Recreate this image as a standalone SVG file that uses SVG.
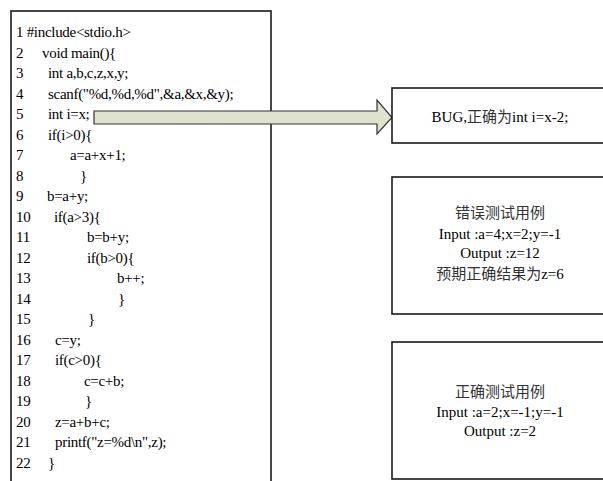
<svg xmlns="http://www.w3.org/2000/svg" width="603" height="481" viewBox="0 0 603 481">
<style>
.box{fill:#fff;stroke:#1a1a1a;stroke-width:1.6}
.code{font-family:"Liberation Serif","Noto Sans CJK SC",serif;font-size:15px;letter-spacing:-0.3px;fill:#000}
.t{font-family:"Liberation Serif","Noto Sans CJK SC",serif;font-size:15px;fill:#000;text-anchor:middle}
.cjk{font-family:"Noto Sans CJK SC",serif;font-size:15px;fill:#333}
.arrow{fill:#dfe2cc;stroke:#333;stroke-width:1.2}
</style>
<rect width="603" height="481" fill="#fff"/>
<g id="code">
<rect class="box" x="11" y="11" width="260" height="480"/>
<text class="code" x="16" y="37">1 #include&lt;stdio.h&gt;</text>
<text class="code" x="16" y="57.5">2</text><text class="code" x="42" y="57.5">void main(){</text>
<text class="code" x="16" y="78">3</text><text class="code" x="48" y="78">int a,b,c,z,x,y;</text>
<text class="code" x="16" y="98.5">4</text><text class="code" x="48" y="98.5">scanf("%d,%d,%d",&amp;a,&amp;x,&amp;y);</text>
<text class="code" x="16" y="119">5</text><text class="code" x="48" y="119">int i=x;</text>
<text class="code" x="16" y="139.5">6</text><text class="code" x="48" y="139.5">if(i&gt;0){</text>
<text class="code" x="16" y="160">7</text><text class="code" x="70" y="160">a=a+x+1;</text>
<text class="code" x="16" y="180.5">8</text><text class="code" x="80" y="180.5">}</text>
<text class="code" x="16" y="201">9</text><text class="code" x="47" y="201">b=a+y;</text>
<text class="code" x="16" y="221.5">10</text><text class="code" x="54" y="221.5">if(a&gt;3){</text>
<text class="code" x="16" y="242">11</text><text class="code" x="87" y="242">b=b+y;</text>
<text class="code" x="16" y="262.5">12</text><text class="code" x="87" y="262.5">if(b&gt;0){</text>
<text class="code" x="16" y="283">13</text><text class="code" x="117" y="283">b++;</text>
<text class="code" x="16" y="303.5">14</text><text class="code" x="118" y="303.5">}</text>
<text class="code" x="16" y="324">15</text><text class="code" x="88" y="324">}</text>
<text class="code" x="16" y="344.5">16</text><text class="code" x="55" y="344.5">c=y;</text>
<text class="code" x="16" y="365">17</text><text class="code" x="55" y="365">if(c&gt;0){</text>
<text class="code" x="16" y="385.5">18</text><text class="code" x="84" y="385.5">c=c+b;</text>
<text class="code" x="16" y="406">19</text><text class="code" x="85" y="406">}</text>
<text class="code" x="16" y="426.5">20</text><text class="code" x="55" y="426.5">z=a+b+c;</text>
<text class="code" x="16" y="447">21</text><text class="code" x="55" y="447">printf("z=%d\n",z);</text>
<text class="code" x="16" y="467.5">22</text><text class="code" x="48" y="467.5">}</text>
</g>
<g id="connectors">
<path class="arrow" d="M94,111 H377 V100 L392,117.5 L377,134 V124 H94 Z"/>
</g>
<g id="bug">
<rect class="box" x="392" y="88" width="220" height="55"/>
<text class="t" x="500" y="122">BUG,<tspan class="cjk">正确为</tspan>int i=x-2;</text>
</g>
<g id="wrong-case">
<rect class="box" x="392" y="177" width="220" height="137"/>
<text class="t" x="500" y="218"><tspan class="cjk">错误测试用例</tspan></text>
<text class="t" x="500" y="238.5">Input :a=4;x=2;y=-1</text>
<text class="t" x="500" y="258">Output :z=12</text>
<text class="t" x="500" y="279"><tspan class="cjk">预期正确结果为</tspan>z=6</text>
</g>
<g id="right-case">
<rect class="box" x="392" y="342" width="220" height="137"/>
<text class="t" x="500" y="397"><tspan class="cjk">正确测试用例</tspan></text>
<text class="t" x="500" y="417">Input :a=2;x=-1;y=-1</text>
<text class="t" x="500" y="436">Output :z=2</text>
</g>
</svg>
